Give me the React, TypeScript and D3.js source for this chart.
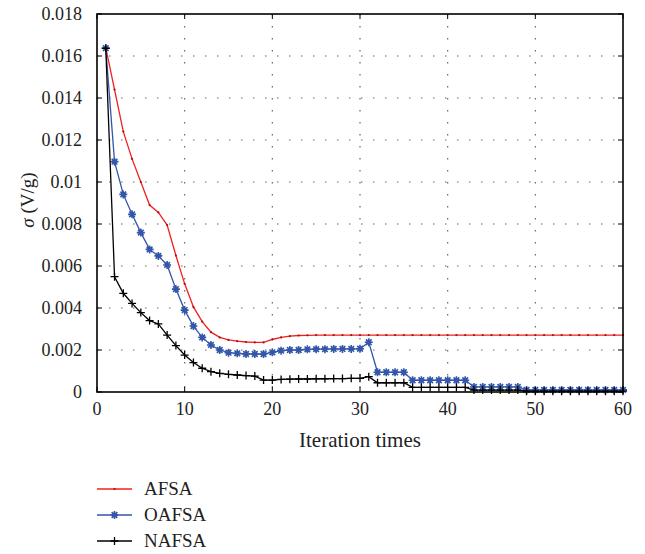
import React from 'react'
import * as d3 from 'd3'

// values are in units of 1e-3 V/g, one per iteration (1..60)
const afsa = [
  16.4, 14.4, 12.4, 11.1, 10.0, 8.9, 8.55, 7.95, 6.5, 5.15,
  4.05, 3.35, 2.85, 2.6, 2.48, 2.42, 2.38, 2.36, 2.36, 2.5,
  2.6, 2.66, 2.69, 2.7, 2.71, 2.71, 2.71, 2.71, 2.71, 2.71,
  2.71, 2.71, 2.71, 2.71, 2.71, 2.71, 2.71, 2.71, 2.71, 2.71,
  2.71, 2.71, 2.71, 2.71, 2.71, 2.71, 2.71, 2.71, 2.71, 2.71,
  2.71, 2.71, 2.71, 2.71, 2.71, 2.71, 2.71, 2.71, 2.71, 2.71,
]
const oafsa = [
  16.37, 10.97, 9.41, 8.46, 7.59, 6.79, 6.48, 6.05, 4.9, 3.9,
  3.14, 2.6, 2.24, 2.0, 1.87, 1.84, 1.81, 1.81, 1.81, 1.89,
  1.97, 2.0, 2.0, 2.03, 2.04, 2.04, 2.05, 2.05, 2.05, 2.06,
  2.37, 0.94, 0.94, 0.94, 0.94, 0.56, 0.56, 0.56, 0.56, 0.56,
  0.56, 0.56, 0.24, 0.24, 0.24, 0.24, 0.24, 0.24, 0.1, 0.1,
  0.1, 0.1, 0.1, 0.1, 0.1, 0.1, 0.1, 0.1, 0.1, 0.1,
]
const nafsa = [
  16.37, 5.49, 4.7, 4.22, 3.78, 3.4, 3.24, 2.71, 2.21, 1.76,
  1.4, 1.13, 0.97, 0.89, 0.84, 0.81, 0.78, 0.76, 0.57, 0.57,
  0.6, 0.61, 0.62, 0.62, 0.63, 0.63, 0.64, 0.64, 0.65, 0.65,
  0.73, 0.44, 0.44, 0.44, 0.44, 0.22, 0.22, 0.22, 0.22, 0.22,
  0.22, 0.22, 0.09, 0.09, 0.09, 0.09, 0.09, 0.09, 0.04, 0.04,
  0.04, 0.04, 0.04, 0.04, 0.04, 0.04, 0.04, 0.04, 0.04, 0.04,
]
const xTicks = [0, 10, 20, 30, 40, 50, 60]
const yTicks = [0, 0.002, 0.004, 0.006, 0.008, 0.01, 0.012, 0.014, 0.016, 0.018]
const seriesNames = ['AFSA', 'OAFSA', 'NAFSA']

const W = 645
const H = 554
const m = { left: 97, top: 14, right: 623, bottom: 392 }
const font = "'Liberation Serif', 'Times New Roman', serif"

const RED = '#f02020'
const BLUE = '#3355aa'
const BLACK = '#000'

const x = d3.scaleLinear().domain([0, 60]).range([m.left, m.right])
const y = d3.scaleLinear().domain([0, 0.018]).range([m.bottom, m.top])

const toPts = (arr: number[]) => arr.map((v, i) => ({ it: i + 1, v: v / 1000 }))

const lineGen = d3.line<{ it: number; v: number }>()
  .x(d => x(d.it))
  .y(d => y(d.v))

const star = (cx: number, cy: number, r: number) => {
  let p = ''
  for (let k = 0; k < 4; k++) {
    const a = (k * Math.PI) / 4
    const dx = Math.cos(a) * r
    const dy = Math.sin(a) * r
    p += `M${cx - dx},${cy - dy}L${cx + dx},${cy + dy}`
  }
  return p
}
const plus = (cx: number, cy: number, r: number) =>
  `M${cx - r},${cy}L${cx + r},${cy}M${cx},${cy - r}L${cx},${cy + r}`

const Marker = ({ name, cx, cy }: { name: string; cx: number; cy: number }) => {
  if (name === 'AFSA') return <circle cx={cx} cy={cy} r={1.1} fill="#b01010" />
  if (name === 'OAFSA')
    return (
      <g>
        <circle cx={cx} cy={cy} r={2.4} fill={BLUE} />
        <path d={star(cx, cy, 4)} stroke={BLUE} strokeWidth={1.6} />
      </g>
    )
  return <path d={plus(cx, cy, 4)} stroke={BLACK} strokeWidth={1.3} />
}

const App = () => {
  const series = [
    { name: 'AFSA', color: RED, pts: toPts(afsa) },
    { name: 'OAFSA', color: BLUE, pts: toPts(oafsa) },
    { name: 'NAFSA', color: BLACK, pts: toPts(nafsa) },
  ]
  const legendY = [489, 515, 541]

  return (
    <svg width={W} height={H}
      style={{ position: 'absolute', left: 0, top: 0, background: '#fff', fontFamily: font }}>
      {/* grid */}
      {xTicks.slice(1, -1).map(t => (
        <line key={'gx' + t} x1={x(t)} x2={x(t)} y1={m.top} y2={m.bottom}
          stroke="#666" strokeWidth={1.2} strokeDasharray="1.5,10.5" />
      ))}
      {yTicks.slice(1, -1).map(t => (
        <line key={'gy' + t} x1={m.left} x2={m.right} y1={y(t)} y2={y(t)}
          stroke="#666" strokeWidth={1.2} strokeDasharray="1.5,10.5" />
      ))}

      {/* series */}
      {series.map(s => (
        <g key={s.name}>
          <path d={lineGen(s.pts) || ''} fill="none" stroke={s.color} strokeWidth={1.3} />
          {s.pts.map(p => <Marker key={p.it} name={s.name} cx={x(p.it)} cy={y(p.v)} />)}
        </g>
      ))}

      {/* frame and inward ticks */}
      <rect x={m.left} y={m.top} width={m.right - m.left} height={m.bottom - m.top}
        fill="none" stroke="#000" strokeWidth={1.6} />
      {xTicks.map(t => (
        <g key={'tx' + t}>
          <line x1={x(t)} x2={x(t)} y1={m.bottom} y2={m.bottom - 5} stroke="#000" />
          <line x1={x(t)} x2={x(t)} y1={m.top} y2={m.top + 5} stroke="#000" />
          <text x={x(t)} y={415} textAnchor="middle" fontSize={18} fill="#222">{t}</text>
        </g>
      ))}
      {yTicks.map(t => (
        <g key={'ty' + t}>
          <line x1={m.left} x2={m.left + 5} y1={y(t)} y2={y(t)} stroke="#000" />
          <line x1={m.right} x2={m.right - 5} y1={y(t)} y2={y(t)} stroke="#000" />
          <text x={82} y={y(t) + 6} textAnchor="end" fontSize={18} fill="#222">{t}</text>
        </g>
      ))}

      {/* axis titles */}
      <text x={(m.left + m.right) / 2} y={447} textAnchor="middle" fontSize={21} fill="#222">
        Iteration times
      </text>
      <text transform="translate(34,200) rotate(-90)" textAnchor="middle" fontSize={19} fill="#222">
        <tspan fontStyle="italic">σ</tspan> (V/g)
      </text>

      {/* legend */}
      {series.map((s, i) => (
        <g key={'lg' + s.name}>
          <line x1={97} x2={132} y1={legendY[i]} y2={legendY[i]} stroke={s.color} strokeWidth={1.3} />
          <Marker name={s.name} cx={114.5} cy={legendY[i]} />
          <text x={144} y={legendY[i] + 6} fontSize={19} fill="#222">{seriesNames[i]}</text>
        </g>
      ))}
    </svg>
  )
}

export default App
